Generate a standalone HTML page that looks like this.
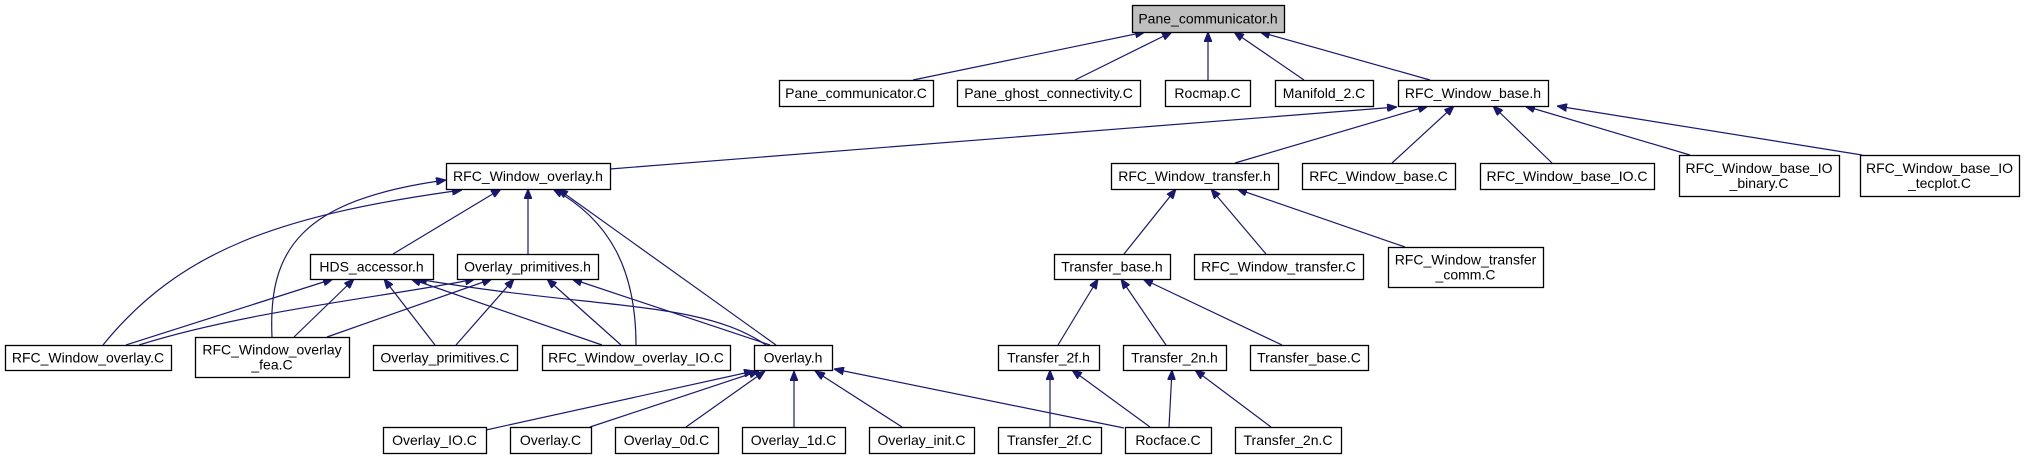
<!DOCTYPE html>
<html><head><meta charset="utf-8"><style>
html,body{margin:0;padding:0;background:#fff;}
svg{display:block;}
text{font-family:"Liberation Sans",Arial,sans-serif;font-size:14px;fill:#000;}
</style></head><body>
<svg id="g" width="2028" height="459" viewBox="0 0 2028 459" xmlns="http://www.w3.org/2000/svg">
<defs><marker id="ah" viewBox="0 0 10 8" refX="10" refY="4" markerWidth="10" markerHeight="8" markerUnits="userSpaceOnUse" orient="auto"><path d="M0,0 L10,4 L0,8 z" fill="#191970" stroke="#191970"/></marker></defs>
<g id="edges"></g><g id="nodes"></g>
</svg>
<script>
const nodeNames = ["Pane_communicator.h","Pane_communicator.C","Pane_ghost_connectivity.C","Rocmap.C","Manifold_2.C","RFC_Window_base.h",
"RFC_Window_overlay.h","RFC_Window_transfer.h","RFC_Window_base.C","RFC_Window_base_IO.C","RFC_Window_base_IO\n_binary.C","RFC_Window_base_IO\n_tecplot.C",
"HDS_accessor.h","Overlay_primitives.h","Transfer_base.h","RFC_Window_transfer.C","RFC_Window_transfer\n_comm.C",
"RFC_Window_overlay.C","RFC_Window_overlay\n_fea.C","Overlay_primitives.C","RFC_Window_overlay_IO.C","Overlay.h","Transfer_2f.h","Transfer_2n.h","Transfer_base.C",
"Overlay_IO.C","Overlay.C","Overlay_0d.C","Overlay_1d.C","Overlay_init.C","Transfer_2f.C","Rocface.C","Transfer_2n.C"];
const nodeBoxes = [[1132,5,1284,32],[779,80,933,106],[957,80,1140,106],[1165,80,1250,106],[1275,80,1373,106],[1398,80,1548,106],
[446,163,610,189],[1111,163,1278,189],[1302,163,1455,189],[1480,163,1654,189],[1679,155,1839,196],[1860,155,2019,196],
[310,254,433,279],[457,254,598,279],[1054,254,1170,279],[1194,254,1363,279],[1388,247,1543,287],
[5,345,171,370],[195,337,349,377],[373,345,517,370],[542,345,730,370],[754,345,832,370],[998,345,1099,370],[1123,345,1226,370],[1250,345,1368,370],
[383,427,486,453],[510,427,591,453],[615,427,718,453],[742,427,845,453],[869,427,974,453],[998,427,1101,453],[1125,427,1211,453],[1235,427,1341,453]];
const edgePaths = [
"M913,80 L1145,32","M1075,80 L1172,32","M1208,80 L1208,32","M1304,80 L1234,32","M1430,80 L1260,32",
"M610,169 L1397,107","M1235,163 L1428,106","M1392,163 L1454,106","M1552,163 L1493,106","M1690,155 L1525,106","M1862,155 L1557,106",
"M1124,254 L1176,189","M1266,254 L1211,189","M1405,247 L1237,189",
"M1058,345 L1098,279","M1166,345 L1121,279","M1282,345 L1143,279",
"M1050,427 L1050,370","M1150,427 L1072,370","M1169,427 L1172,370","M1271,427 L1195,370","M1124,428 L834,369",
"M103,345 C180,250 280,215 462,190","M272,337 C268,250 300,200 446,180","M393,254 L501,189","M528,254 L528,189",
"M636,345 C636,270 610,220 553,189","M776,345 L558,189",
"M126,345 L333,279","M294,337 L354,279","M435,345 L384,279","M602,345 L411,279","M766,345 C700,300 600,310 417,279",
"M139,345 C250,310 400,295 475,279","M327,337 L492,279","M456,345 L514,279","M621,345 L547,279","M770,345 L572,279",
"M486,430 L754,371","M590,427 L759,371","M686,427 L765,371","M794,427 L794,371","M902,427 L815,371"];
const NS="http://www.w3.org/2000/svg";
const eg=document.getElementById('edges'), ng=document.getElementById('nodes');
edgePaths.forEach((d,i)=>{
  const p=document.createElementNS(NS,'path');
  p.setAttribute('d',d);p.setAttribute('fill','none');p.setAttribute('stroke','#191970');p.setAttribute('stroke-width','1.2');
  p.setAttribute('marker-end','url(#ah)');
  
  
  eg.appendChild(p);
});
nodeBoxes.forEach((b,i)=>{
  const g=document.createElementNS(NS,'g');
  
  
  const r=document.createElementNS(NS,'rect');
  r.setAttribute('x',b[0]+0.5);r.setAttribute('y',b[1]+0.5);r.setAttribute('width',b[2]-b[0]);r.setAttribute('height',b[3]-b[1]);
  r.setAttribute('fill',i===0?'#bfbfbf':'#fff');r.setAttribute('stroke','#000');r.setAttribute('stroke-width','1.3');
  g.appendChild(r);
  const lines=nodeNames[i].split('\n');
  const cx=(b[0]+b[2])/2, cy=(b[1]+b[3])/2;
  lines.forEach((ln,k)=>{
    const t=document.createElementNS(NS,'text');
    t.setAttribute('x',cx);t.setAttribute('y',cy+5+(k-(lines.length-1)/2)*15);t.setAttribute('text-anchor','middle');
    t.textContent=ln;g.appendChild(t);
  });
  ng.appendChild(g);
});
</script>
</body></html>
